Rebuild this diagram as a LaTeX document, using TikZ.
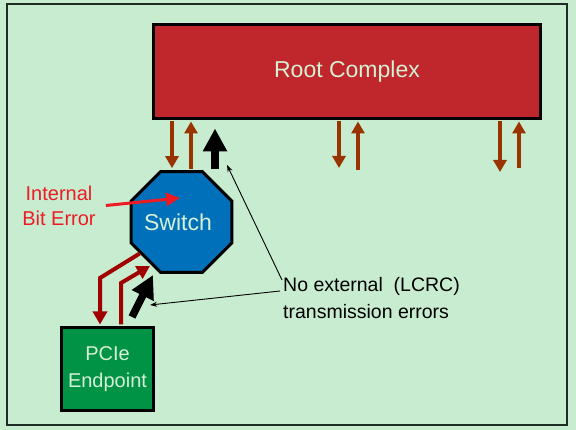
\documentclass[tikz,border=0pt]{standalone}
\usepackage{fontspec}
\setmainfont{Liberation Sans}
\setsansfont{Liberation Sans}
\usepackage{tikz}
\usetikzlibrary{arrows.meta}
\usetikzlibrary{shapes,shapes.geometric}

\definecolor{bggreen}{RGB}{200,236,208}
\definecolor{framegray}{RGB}{30,45,35}
\definecolor{rootred}{RGB}{192,39,45}
\definecolor{swblue}{RGB}{0,112,186}
\definecolor{epgreen}{RGB}{0,146,69}
\definecolor{paletext}{RGB}{214,240,212}
\definecolor{linkbrown}{RGB}{153,51,0}
\definecolor{linkred}{RGB}{160,0,0}
\definecolor{errred}{RGB}{237,28,36}

\tikzset{
  rootbox/.style={draw=black, line width=3pt, fill=rootred, text=paletext, minimum width=387pt, minimum height=94pt, font=\fontsize{23}{27}\selectfont},
  swoct/.style={regular polygon, regular polygon sides=8, draw=black, line width=3pt, fill=swblue, text=paletext, inner sep=0pt, minimum size=109pt, font=\fontsize{23}{27}\selectfont},
  epbox/.style={draw=black, line width=3pt, fill=epgreen, text=paletext, minimum width=92pt, minimum height=83pt, align=center, font=\fontsize{20}{27}\selectfont},
  link/.style={linkbrown, line width=3.6pt, -{Triangle[length=12pt,width=13pt]}},
  eplink/.style={linkred, line width=4pt, -{Triangle[length=13pt,width=14pt]}},
  fat/.style={black, line width=7.5pt, -{Triangle[length=23pt,width=23pt]}},
  thin/.style={black, line width=0.9pt, -{Stealth[length=7pt,width=5pt]}},
}

\begin{document}
\begin{tikzpicture}[x=1pt, y=-1pt]
		\useasboundingbox (0,0) rectangle (576,430);
		\fill[bggreen] (0,0) rectangle (576,430);
		\draw[framegray, line width=2pt] (7,4) rectangle (567,425);
		
		\node[rootbox] (root) at (347,71.5) {Root Complex};
		\node[swoct] (sw) at (181.5,222) {\hspace*{-7pt}Switch};
		\node[epbox] (ep) at (107.5,369) {PCIe\\Endpoint};
		\node[errred, align=center, inner sep=0pt, font=\fontsize{20}{25}\selectfont] (err) at (59,205.5) {Internal\\Bit Error};
		\node[anchor=west, align=left, inner sep=0pt, font=\fontsize{19.5}{27}\selectfont] (note) at (283,298.5) {No external\ \ (LCRC)\\transmission errors};
		
		% link positions
		\coordinate (x1) at (172,0);
		\coordinate (x2) at (191,0);
		\coordinate (d2) at (339,168);
		\coordinate (u2) at (358,170);
		\coordinate (d3) at (500,172);
		\coordinate (u3) at (519,168);
		\coordinate (bend1) at (100,278);
		\coordinate (bend2) at (121,283);
		\coordinate (fa1) at (215,169);
		\coordinate (fb1) at (132,317);
		\coordinate (fb2) at (153,275);
		\coordinate (t1) at (227,165);
		\coordinate (t2) at (150,305);
		\coordinate (hit) at (180,198);
		
		\draw[link, shorten <=1.5pt, shorten >=2pt] (x1 |- root.south) -- (x1 |- sw.north);
		\draw[link, shorten <=1.5pt, shorten >=1.5pt] (x2 |- sw.north) -- (x2 |- root.south);
		\draw[link, shorten <=1.5pt] (d2 |- root.south) -- (d2);
		\draw[link, shorten >=1.5pt] (u2) -- (u2 |- root.south);
		\draw[link, shorten <=1.5pt] (d3 |- root.south) -- (d3);
		\draw[link, shorten >=1.5pt] (u3) -- (u3 |- root.south);
		
		\draw[eplink, shorten >=1.5pt] (sw.217) -- (bend1) -- (bend1 |- ep.north);
		\draw[eplink, shorten <=1.5pt, shorten >=1.5pt] (bend2 |- ep.north) -- (bend2) -- (sw.235);
		
		\draw[fat, shorten >=8.5pt] (fa1) -- (fa1 |- root.south);
		\draw[fat] (fb1) -- (fb2);
		
		\draw[errred, line width=3pt, -{Triangle[length=14pt,width=13pt]}] ([xshift=10pt]err.east) -- (hit);
		\draw[thin] ([xshift=-1pt,yshift=18.5pt]note.west) -- (t1);
		\draw[thin] ([xshift=-3pt,yshift=7.5pt]note.west) -- (t2);
		
	\end{tikzpicture}
\end{document}
